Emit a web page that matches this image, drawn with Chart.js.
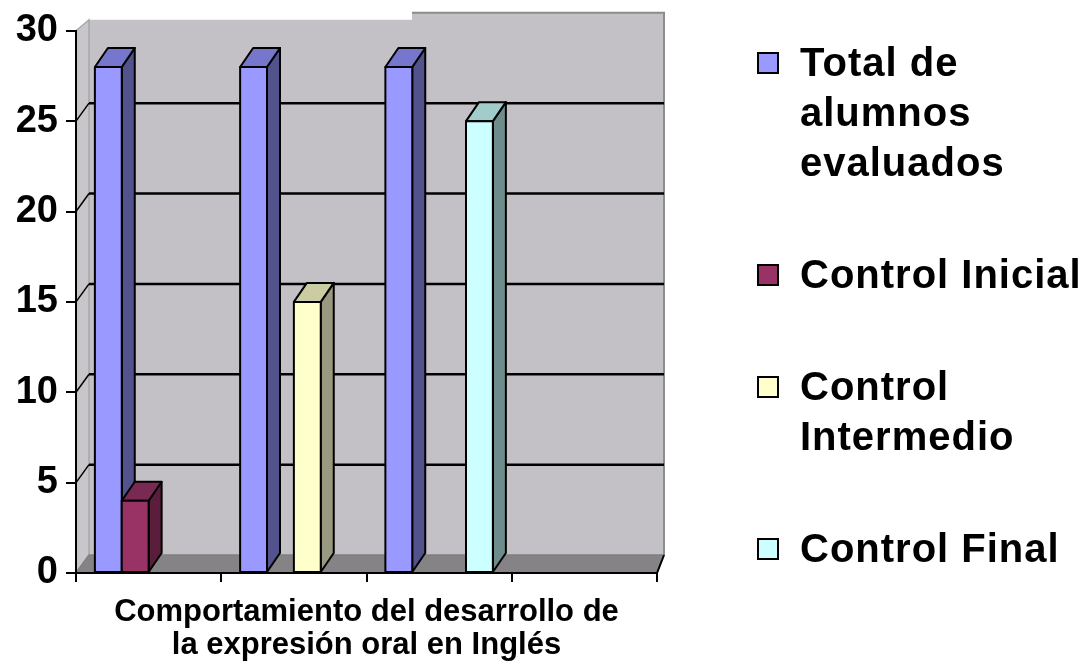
<!DOCTYPE html>
<html>
<head>
<meta charset="utf-8">
<script src="https://cdn.jsdelivr.net/npm/chart.js@4.4.0/dist/chart.umd.min.js"></script>
<style>
  html, body { margin: 0; padding: 0; background: #fff; }
  #wrap { position: relative; width: 1086px; height: 668px; overflow: hidden; }
  #chart { position: absolute; left: 0; top: 0; }
  #legend {
    position: absolute; left: 757px; top: 37px; height: 536px;
    display: flex; flex-direction: column; justify-content: space-between;
    font-family: "Liberation Sans", Arial, sans-serif; font-weight: bold;
    font-size: 40px; line-height: 50px; color: #000; letter-spacing: 1px;
  }
  .item { display: flex; align-items: flex-start; }
  .box { width: 18px; height: 18px; border: 2px solid #000; margin: 15px 21px 0 0; flex: none; }
</style>
</head>
<body>
<div id="wrap">
  <canvas id="chart" width="1086" height="668"></canvas>
  <div id="legend"></div>
</div>
<script>
// data
const categories = ["1", "2", "3", "4"];
const totalAlumnos = [28, 28, 28, null];
const controlInicial = [4, null, null, null];
const controlIntermedio = [null, 15, null, null];
const controlFinal = [null, null, 25, null];
const seriesLines = [
  ["Total de", "alumnos", "evaluados"],
  ["Control Inicial"],
  ["Control", "Intermedio"],
  ["Control Final"],
];
const yTicks = [0, 5, 10, 15, 20, 25, 30];
const xTitle = ["Comportamiento del desarrollo de", "la expresión oral en Inglés"];

// front / side / top colours of each series
const seriesColors = [
  { front: "#9999FF", side: "#52528C", top: "#7676CC" },
  { front: "#993366", side: "#5A1E3C", top: "#7A2952" },
  { front: "#FFFFCC", side: "#999980", top: "#CCCCA3" },
  { front: "#CCFFFF", side: "#6F8C8C", top: "#A0CCCC" },
];

const DX = 13, DY = -18;  // wall depth
const BX = 13, BY = -19;  // bar depth

function poly(ctx, pts, fill) {
  ctx.beginPath();
  ctx.moveTo(pts[0][0], pts[0][1]);
  for (let i = 1; i < pts.length; i++) ctx.lineTo(pts[i][0], pts[i][1]);
  ctx.closePath();
  if (fill) { ctx.fillStyle = fill; ctx.fill(); }
  ctx.stroke();
}

const wallPlugin = {
  id: "wall",
  beforeDraw(chart) {
    const { ctx, chartArea: a, scales: { y } } = chart;
    const base = y.getPixelForValue(0);
    const top = a.top + DY;
    ctx.save();
    ctx.fillStyle = "#fff";
    ctx.fillRect(0, 0, chart.width, chart.height);

    // back wall
    ctx.fillStyle = "#C3C1C5";
    ctx.fillRect(a.left + DX, top, a.right - a.left - 6, base + DY - top);
    ctx.strokeStyle = "#8C8C8C";
    ctx.lineWidth = 2;
    ctx.beginPath();
    ctx.moveTo(a.left + DX, top);
    ctx.lineTo(a.right + DX - 6, top);
    ctx.lineTo(a.right + DX - 6, base + DY);
    ctx.stroke();
    // white notch on the top edge, as in the original
    ctx.fillStyle = "#fff";
    ctx.fillRect(a.left + DX - 1, 0, 413 - (a.left + DX), top + 7);

    // left side wall
    ctx.strokeStyle = "#A8A8A8";
    ctx.lineWidth = 1.5;
    poly(ctx, [[a.left, a.top], [a.left + DX, a.top - 11], [a.left + DX, base + DY], [a.left, base]], "#C8C6CA");

    // floor
    ctx.strokeStyle = "#808080";
    poly(ctx, [[a.left, base], [a.left + DX, base + DY], [a.right + DX - 6, base + DY], [a.right, base]], "#858385");
    ctx.strokeStyle = "#000";
    ctx.lineWidth = 2;
    ctx.beginPath();
    ctx.moveTo(a.right, base);
    ctx.lineTo(a.right + DX - 6, base + DY);
    ctx.stroke();

    // grid lines on the wall
    yTicks.forEach(v => {
      if (v === 0 || v === 30) return;
      const py = y.getPixelForValue(v);
      ctx.lineWidth = 2.5;
      ctx.beginPath();
      ctx.moveTo(a.left + DX, py + DY);
      ctx.lineTo(a.right + DX - 6, py + DY);
      ctx.stroke();
      ctx.lineWidth = 1.5;
      ctx.beginPath();
      ctx.moveTo(a.left, py);
      ctx.lineTo(a.left + DX, py + DY);
      ctx.stroke();
    });
    ctx.restore();
  }
};

const barPlugin = {
  id: "bars3d",
  afterDatasetsDraw(chart) {
    const ctx = chart.ctx;
    const list = [];
    chart.data.datasets.forEach((ds, i) => {
      chart.getDatasetMeta(i).data.forEach((el, j) => {
        if (ds.data[j] == null) return;
        list.push({ p: el.getProps(["x", "y", "base", "width"], true), c: seriesColors[i] });
      });
    });
    list.sort((m, n) => m.p.x - n.p.x);
    ctx.save();
    ctx.lineWidth = 2;
    ctx.strokeStyle = "#000";
    ctx.lineJoin = "round";
    list.forEach(({ p, c }) => {
      const l = p.x - p.width / 2, r = p.x + p.width / 2, t = p.y, b = p.base;
      poly(ctx, [[r, b], [r, t], [r + BX, t + BY], [r + BX, b + BY]], c.side);
      poly(ctx, [[l, t], [r, t], [r + BX, t + BY], [l + BX, t + BY]], c.top);
      poly(ctx, [[l, b], [l, t], [r, t], [r, b]], c.front);
    });
    ctx.restore();
  }
};

const seriesData = [totalAlumnos, controlInicial, controlIntermedio, controlFinal];

const chart = new Chart(document.getElementById("chart").getContext("2d"), {
  type: "bar",
  data: {
    labels: categories,
    datasets: seriesData.map((d, i) => ({
      label: seriesLines[i].join(" "),
      data: d,
      backgroundColor: seriesColors[i].front,
      borderWidth: 0,
      categoryPercentage: 0.74,
      barPercentage: 1.0,
    })),
  },
  options: {
    responsive: false,
    animation: false,
    layout: { padding: { top: 24, right: 429, left: 0, bottom: 0 } },
    plugins: { legend: { display: false }, tooltip: { enabled: false } },
    scales: {
      x: {
        ticks: { display: false },
        grid: { offset: true, drawOnChartArea: false, drawTicks: true, tickLength: 9, color: "#000", lineWidth: 2 },
        border: { display: true, color: "#000", width: 2 },
        title: {
          display: true,
          text: xTitle,
          color: "#000",
          font: { family: "Liberation Sans", weight: "bold", size: 31, lineHeight: 1.07 },
          padding: { top: 0, bottom: 6 },
        },
        afterFit(scale) { scale.height = 95; },
      },
      y: {
        min: 0,
        max: 30,
        afterBuildTicks(scale) { scale.ticks = yTicks.map(v => ({ value: v })); },
        ticks: {
          color: "#000",
          padding: 8,
          font: { family: "Liberation Sans", weight: "bold", size: 38 },
        },
        grid: { drawOnChartArea: false, drawTicks: true, tickLength: 10, color: "#000", lineWidth: 2 },
        border: { display: true, color: "#000", width: 2 },
        afterFit(scale) { scale.width = 76; },
      },
    },
  },
  plugins: [wallPlugin, barPlugin],
});

// legend
const legend = document.getElementById("legend");
seriesLines.forEach((lines, i) => {
  const item = document.createElement("div");
  item.className = "item";
  const box = document.createElement("div");
  box.className = "box";
  box.style.background = seriesColors[i].front;
  const txt = document.createElement("div");
  txt.innerHTML = lines.join("<br>");
  item.appendChild(box);
  item.appendChild(txt);
  legend.appendChild(item);
});
</script>
</body>
</html>
